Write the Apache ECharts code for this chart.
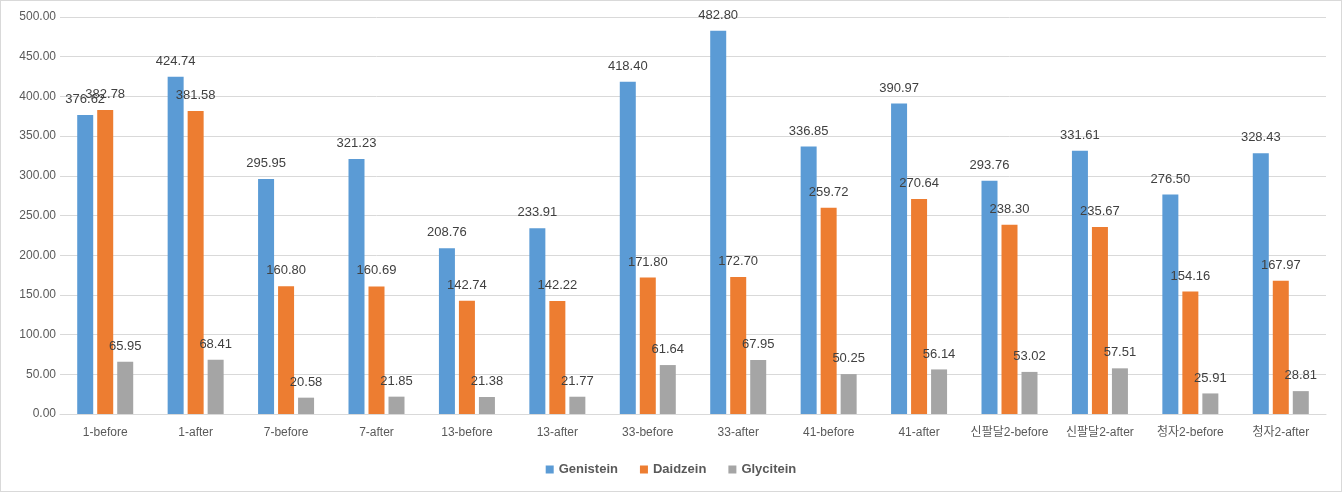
<!DOCTYPE html>
<html>
<head>
<meta charset="utf-8">
<script src="https://cdn.jsdelivr.net/npm/echarts@6/dist/echarts.min.js"></script>
<style>
html,body{margin:0;padding:0;background:#fff;}
#c{width:1342px;height:492px;box-sizing:border-box;border:1px solid #d9d9d9;}
</style>
</head>
<body>
<div id="c"></div>
<script>
const categories = ["1-before","1-after","7-before","7-after","13-before","13-after","33-before","33-after","41-before","41-after","신팔달2-before","신팔달2-after","청자2-before","청자2-after"];
const genistein = [376.62,424.74,295.95,321.23,208.76,233.91,418.40,482.80,336.85,390.97,293.76,331.61,276.50,328.43];
const daidzein = [382.78,381.58,160.80,160.69,142.74,142.22,171.80,172.70,259.72,270.64,238.30,235.67,154.16,167.97];
const glycitein = [65.95,68.41,20.58,21.85,21.38,21.77,61.64,67.95,50.25,56.14,53.02,57.51,25.91,28.81];
const seriesNames = ["Genistein","Daidzein","Glycitein"];
const colors = ["#5B9BD5","#ED7D31","#A5A5A5"];

const FONT = "'Liberation Sans','Noto Sans CJK KR',sans-serif";
const chart = echarts.init(document.getElementById('c'));
const mk = (name, data, color) => ({
  name, type: 'bar', data, barWidth: 16, barGap: '25%',
  itemStyle: { color },
  label: { show: true, position: 'top', distance: 9, color: '#404040', fontSize: 13, fontFamily: FONT,
    formatter: p => p.value.toFixed(2) },
  labelLayout: { hideOverlap: false }
});
chart.setOption({
  animation: false,
  textStyle: { fontFamily: FONT },
  grid: { left: 59, right: 15, top: 16, bottom: 77, containLabel: false },
  legend: {
    data: seriesNames, bottom: 10, left: 'center', itemWidth: 8, itemHeight: 8, itemGap: 22,
    icon: 'rect',
    textStyle: { color: '#595959', fontSize: 13, fontWeight: 'bold', fontFamily: FONT }
  },
  xAxis: {
    type: 'category', data: categories,
    axisLine: { lineStyle: { color: '#d9d9d9' } },
    axisTick: { show: false },
    axisLabel: { color: '#595959', fontSize: 12, margin: 13, interval: 0, fontFamily: FONT }
  },
  yAxis: {
    type: 'value', min: 0, max: 500, interval: 50,
    axisLine: { show: false }, axisTick: { show: false },
    splitLine: { lineStyle: { color: '#d9d9d9' } },
    axisLabel: { color: '#595959', fontSize: 12, margin: 4, fontFamily: FONT, formatter: v => v.toFixed(2) }
  },
  series: [mk(seriesNames[0], genistein, colors[0]), mk(seriesNames[1], daidzein, colors[1]), mk(seriesNames[2], glycitein, colors[2])]
});
</script>
</body>
</html>
